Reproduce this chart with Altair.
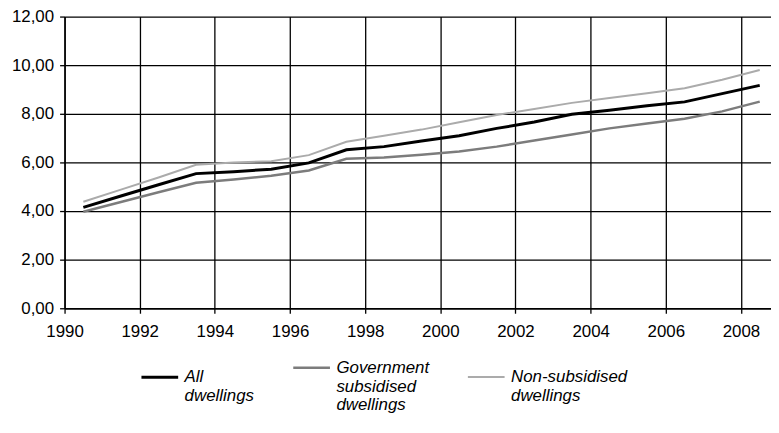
import altair as alt
import pandas as pd

years = list(range(1990, 2009))
series_names = ["All dwellings", "Government subsidised dwellings", "Non-subsidised dwellings"]
all_dwellings = [4.15, 4.62, 5.08, 5.54, 5.62, 5.72, 5.98, 6.52, 6.65, 6.88, 7.10, 7.40, 7.66, 7.98, 8.15, 8.33, 8.49, 8.83, 9.17]
gov_subsidised = [3.97, 4.37, 4.77, 5.16, 5.30, 5.45, 5.67, 6.15, 6.20, 6.32, 6.45, 6.65, 6.90, 7.15, 7.40, 7.60, 7.80, 8.10, 8.50]
non_subsidised = [4.38, 4.88, 5.38, 5.90, 6.00, 6.05, 6.30, 6.85, 7.10, 7.35, 7.65, 7.95, 8.20, 8.45, 8.65, 8.85, 9.05, 9.40, 9.80]
x_ticks = list(range(1990, 2009, 2))
y_ticks = [0, 2, 4, 6, 8, 10, 12]
colors = ["#000000", "#7c7c7c", "#ababab"]
widths = [3, 2, 2]

rows = []
for name, vals in zip(series_names, [all_dwellings, gov_subsidised, non_subsidised]):
    for yr, v in zip(years, vals):
        rows.append({"year": yr, "value": v, "series": name})
df = pd.DataFrame(rows)

font = "Liberation Sans"

chart = (
    alt.Chart(df)
    .transform_calculate(xpos="datum.year + 0.5")
    .mark_line()
    .encode(
        x=alt.X(
            "xpos:Q",
            scale=alt.Scale(domain=[1990, 2008.8], nice=False, zero=False),
            axis=alt.Axis(values=x_ticks, format="d", title=None, tickSize=5,
                          labelPadding=10, labelFlush=False),
        ),
        y=alt.Y(
            "value:Q",
            scale=alt.Scale(domain=[0, 12], nice=False),
            axis=alt.Axis(values=y_ticks, title=None, tickSize=5, labelPadding=6,
                          labelExpr="replace(format(datum.value, '.2f'), '.', ',')"),
        ),
        color=alt.Color(
            "series:N",
            scale=alt.Scale(domain=series_names, range=colors),
            legend=alt.Legend(
                title=None, orient="none", legendX=76, legendY=334,
                direction="horizontal", columns=3, columnPadding=34,
                symbolType="stroke", symbolSize=1369, symbolStrokeWidth=2.5,
                labelFont=font, labelFontSize=17, labelFontStyle="italic",
                labelColor="black", labelLimit=300, labelBaseline="middle",
                labelOffset=5,
                labelExpr="split(datum.label, ' ')",
            ),
        ),
        strokeWidth=alt.StrokeWidth(
            "series:N", scale=alt.Scale(domain=series_names, range=widths), legend=None
        ),
    )
    .properties(
        width=712, height=294,
        padding={"left": 57, "top": 7, "right": 0, "bottom": 115},
        autosize=alt.AutoSizeParams(type="none"),
    )
    .configure_view(stroke=None)
    .configure_axis(
        domainColor="black", domainWidth=1.5, gridColor="black", gridWidth=1.3,
        gridOpacity=1, tickColor="black", tickWidth=1.3, labelColor="black",
        labelFont=font, labelFontSize=17,
    )
)

chart.save("out.html", embed_options={"renderer": "svg", "actions": False})
